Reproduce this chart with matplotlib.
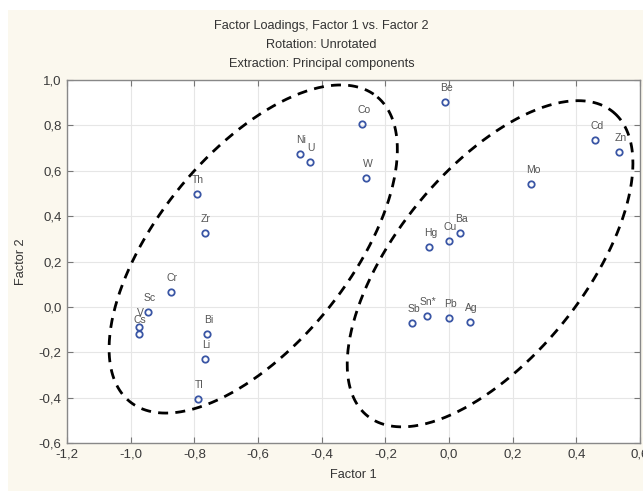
import numpy as np
import matplotlib
matplotlib.use('Agg')
import matplotlib.pyplot as plt
from matplotlib.patches import Rectangle

# 데이터: 원소 이름과 요인 적재량 (Factor 1, Factor 2)
elements = ['Be', 'Co', 'Ni', 'U', 'W', 'Th', 'Zr', 'Cr', 'Sc', 'V', 'Cs',
            'Bi', 'Li', 'Tl', 'Hg', 'Cu', 'Ba', 'Sb', 'Sn*', 'Pb', 'Ag',
            'Mo', 'Cd', 'Zn']
factor1 = [-0.011, -0.272, -0.469, -0.437, -0.260, -0.792, -0.768, -0.874,
           -0.946, -0.973, -0.974, -0.759, -0.766, -0.790, -0.063, -0.001,
           0.035, -0.116, -0.070, -0.001, 0.065, 0.259, 0.460, 0.534]
factor2 = [0.904, 0.807, 0.675, 0.637, 0.570, 0.496, 0.327, 0.065, -0.021,
           -0.089, -0.120, -0.120, -0.230, -0.405, 0.266, 0.292, 0.325,
           -0.069, -0.041, -0.048, -0.065, 0.540, 0.734, 0.683]

xticks = [-1.2, -1.0, -0.8, -0.6, -0.4, -0.2, 0.0, 0.2, 0.4, 0.6]
xtick_labels = ['-1,2', '-1,0', '-0,8', '-0,6', '-0,4', '-0,2', '0,0', '0,2', '0,4', '0,6']
yticks = [-0.6, -0.4, -0.2, 0.0, 0.2, 0.4, 0.6, 0.8, 1.0]
ytick_labels = ['-0,6', '-0,4', '-0,2', '0,0', '0,2', '0,4', '0,6', '0,8', '1,0']

plt.rcParams['font.family'] = ['Liberation Sans', 'DejaVu Sans']

fig = plt.figure(figsize=(6.43, 4.91), dpi=100)
fig.patch.set_facecolor('white')
# 크림색 배경 영역
fig.patches.append(Rectangle((8 / 643, 0), 1, 1 - 10 / 491, transform=fig.transFigure,
                             facecolor='#FBF8EE', edgecolor='none', zorder=-5))

ax = fig.add_axes([67 / 643, 48 / 491, 573 / 643, 363 / 491])
ax.set_zorder(1)
ax.set_facecolor('white')

# 그룹 경계 (점선 타원): 중심, 장축 벡터, 단축 벡터
t = np.linspace(0, 2 * np.pi, 400)
for c, a, b in [((-0.615, 0.255), (0.390, 0.670), (0.230, -0.272)),
                ((0.129, 0.190), (0.390, 0.665), (0.222, -0.273))]:
    ex = c[0] + a[0] * np.cos(t) + b[0] * np.sin(t)
    ey = c[1] + a[1] * np.cos(t) + b[1] * np.sin(t)
    ax.plot(ex, ey, color='black', lw=2.0, linestyle=(0, (3.6, 2.6)), zorder=2)

# 산점도
ax.plot(factor1, factor2, linestyle='none', marker='o', markersize=4.6,
        markerfacecolor='none', markeredgecolor='#3A56A5', markeredgewidth=1.3, zorder=3)
for name, x, y in zip(elements, factor1, factor2):
    ax.annotate(name, (x, y), xytext=(1, 10), textcoords='offset points',
                ha='center', va='center', fontsize=7.5, color='#555555')

ax.set_xlim(-1.2, 0.6)
ax.set_ylim(-0.6, 1.0)
ax.set_xticks(xticks)
ax.set_xticklabels(xtick_labels)
ax.set_yticks(yticks)
ax.set_yticklabels(ytick_labels)
ax.tick_params(direction='in', length=4, width=0.8, color='#777777', pad=4,
               top=True, right=True, labelsize=9.5, labelcolor='#3a3a3a')
ax.grid(True, color='#E6E6E6', lw=0.8)
ax.set_axisbelow(True)
for s in ax.spines.values():
    s.set_color('#888888')
    s.set_linewidth(1.0)

ax.set_xlabel('Factor 1', fontsize=9.2, color='#333333', labelpad=6)
ax.set_ylabel('Factor 2', fontsize=9.2, color='#333333', labelpad=8)

fig.text(0.5, 1 - 26 / 491, 'Factor Loadings, Factor 1 vs. Factor 2', ha='center', va='center', fontsize=9.2, color='#333333')
fig.text(0.5, 1 - 45 / 491, 'Rotation: Unrotated', ha='center', va='center', fontsize=9.2, color='#333333')
fig.text(0.5, 1 - 64 / 491, 'Extraction: Principal components', ha='center', va='center', fontsize=9.2, color='#333333')

fig.savefig('out.png', dpi=100)
